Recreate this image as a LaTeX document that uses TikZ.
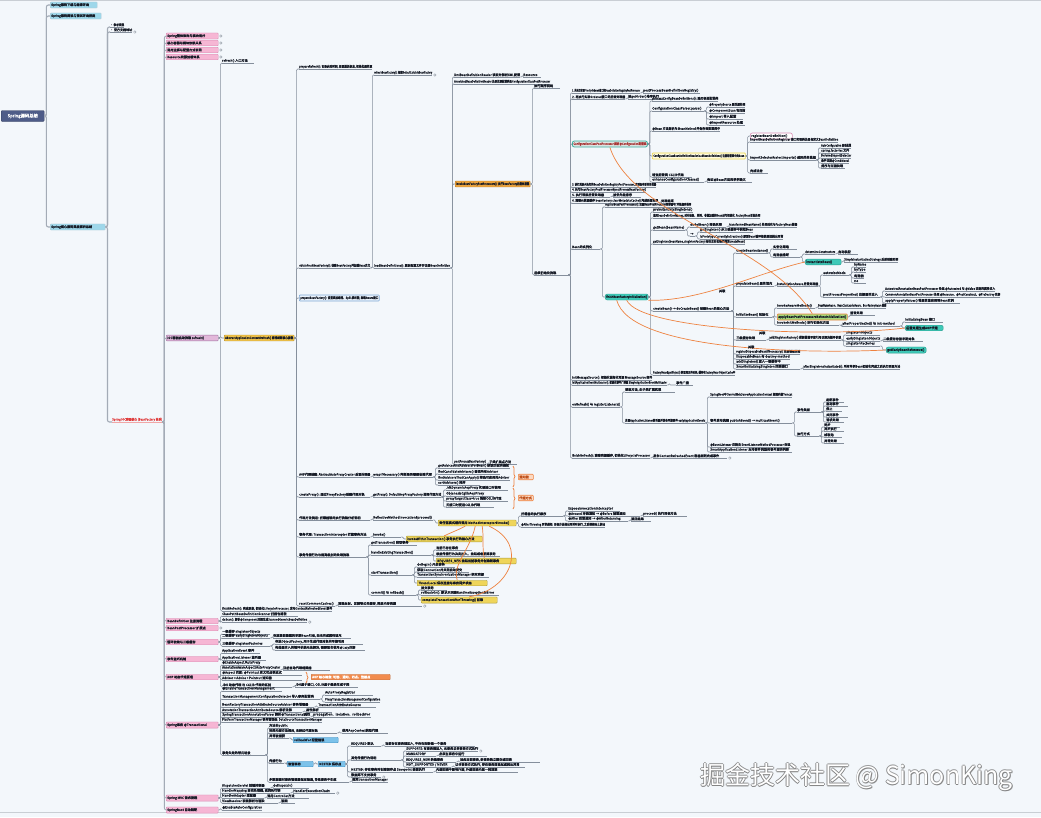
\documentclass[tikz,border=0pt]{standalone}
\usepackage{fontspec}
\setmainfont{Noto Sans CJK SC}
\newfontfamily\mmfont{Noto Sans CJK SC}[FakeBold=1.5]
\usepackage{graphicx}
\usetikzlibrary{decorations.pathreplacing}
\definecolor{bg}{HTML}{F3F7FB}
\definecolor{linec}{HTML}{858F9C}
\definecolor{trunkc}{HTML}{A3ABB6}
\definecolor{txt}{HTML}{161B26}
\definecolor{rootc}{HTML}{4E5C88}
\definecolor{cyanc}{HTML}{9ED7EA}
\definecolor{pinkf}{HTML}{F6B6D4}
\definecolor{pinkd}{HTML}{D98CB3}
\definecolor{lavf}{HTML}{E2B8DA}
\definecolor{lavd}{HTML}{9C6F9E}
\definecolor{goldf}{HTML}{F0C24A}
\definecolor{goldd}{HTML}{B8902A}
\definecolor{orf}{HTML}{ECA43E}
\definecolor{ord}{HTML}{C07E22}
\definecolor{tealf}{HTML}{3FC9B8}
\definecolor{teald}{HTML}{2A9C8E}
\definecolor{yelf}{HTML}{EFD55A}
\definecolor{yeld}{HTML}{A99A3C}
\definecolor{curvec}{HTML}{EE8240}
\definecolor{bluef}{HTML}{7CC2EA}
\definecolor{blued}{HTML}{3F8FC2}
\definecolor{greenf}{HTML}{A5D67A}
\definecolor{redt}{HTML}{E03C3C}
\definecolor{tgf}{HTML}{DCE4E2}
\definecolor{tgd}{HTML}{3AAE9E}
\definecolor{tgt}{HTML}{A83434}
\definecolor{ywf}{HTML}{FFFCE2}
\definecolor{ywd}{HTML}{EDD64E}
\definecolor{lbf}{HTML}{EAF2FB}
\definecolor{lbd}{HTML}{7FA9D6}
\definecolor{orsf}{HTML}{FBD9C2}
\definecolor{orst}{HTML}{C0501A}
\definecolor{orbf}{HTML}{F28C4E}
\definecolor{wmshadow}{HTML}{7A7A7A}
\definecolor{edge}{HTML}{C9CED4}

\newsavebox\mmbox
\newcommand\mmfit[2]{\sbox\mmbox{\resizebox{!}{2.65pt}{\mmfont\vphantom{国}#2}}%
 \ifdim\wd\mmbox>#1pt\relax\resizebox{#1pt}{2.65pt}{\usebox\mmbox}\else\makebox[#1pt][l]{\usebox\mmbox}\fi}
\newcommand\mmT[5]{\node[tn] (#1) at (#2,#3) {\mmfit{#4}{#5}};%
 \draw[ul] (#1.south west) -- (#1.south east);%
 \coordinate (#1-o) at (#1.south east);\coordinate (#1-i) at (#1.south west);}
\newcommand\mmB[6]{\pgfmathsetmacro\mmw{#5-2}\node[#1] (#2) at (#3,#4) {\mmfit{\mmw}{#6}};%
 \coordinate (#2-o) at (#2.east);\coordinate (#2-i) at (#2.west);}
\newcommand\mmC[2]{\draw[cn] (#1-o) -- ++(2,0) |- (#2-i);}
\newcommand\mmCC[2]{\foreach \mmc in {#2}{\mmC{#1}{\mmc}}}
\newcommand\mmX[1]{\draw[draw=linec,fill=white,line width=0.35pt] ([xshift=2.4pt]#1-o) circle (1.3pt);}

\tikzset{
 tn/.style={anchor=south west, inner xsep=0pt, inner ysep=0.5pt, text=txt},
 ul/.style={draw=linec, line width=0.55pt},
 cn/.style={draw=linec, line width=0.55pt, rounded corners=1.2pt},
 trunk/.style={draw=trunkc, line width=1.1pt, rounded corners=2pt},
 bx/.style={anchor=west, inner xsep=1pt, inner ysep=1.3pt, rounded corners=0.8pt, line width=0.45pt, text=txt},
 cyanbx/.style={bx, fill=cyanc, draw=cyanc!80!black!60},
 pinkbx/.style={bx, fill=pinkf, draw=pinkd},
 lavbx/.style={bx, fill=lavf, draw=lavd},
 goldbx/.style={bx, fill=goldf, draw=goldd},
 orbx/.style={bx, fill=orf, draw=ord},
 tqbx/.style={bx, fill=tealf, draw=teald, rounded corners=2pt},
 tgbx/.style={bx, fill=tgf, draw=tgd, text=tgt, line width=0.8pt, rounded corners=2pt},
 ywbx/.style={bx, fill=ywf, draw=ywd, line width=0.7pt},
 pkobx/.style={bx, fill=white, draw=pinkd, line width=0.6pt, rounded corners=2pt},
 grbx/.style={bx, fill=greenf, draw=curvec, line width=0.6pt},
 yelbx/.style={bx, fill=yelf, draw=yeld},
 blbx/.style={bx, fill=bluef, draw=blued},
 lbbx/.style={bx, fill=lbf, draw=lbd, line width=0.6pt},
 orsbx/.style={bx, fill=orsf, draw=curvec, text=orst, line width=0.6pt},
 orbbx/.style={bx, fill=orbf, draw=orbf!80!black, text=white},
 rootbx/.style={anchor=west, fill=rootc, draw=rootc!70!black, minimum width=43pt, minimum height=11pt, inner sep=1pt, rounded corners=1pt},
 curve/.style={draw=curvec, line width=0.7pt},
 lbl/.style={inner sep=0pt, text=txt},
 wm/.style={anchor=west, inner sep=0pt, font=\fontsize{25}{25}\selectfont}
}

\begin{document}
\begin{tikzpicture}[x=1pt,y=-1pt]
\fill[bg] (0,0) rectangle (1041,817);
\useasboundingbox (0,0) rectangle (1041,817);
\draw[edge, line width=0.8pt] (0,0.6) -- (1041,0.6);
\draw[edge, line width=1pt] (0,812.5) -- (1041,812.5);

% ---------- root and first levels
\node[rootbx] (root) at (1,116) {\resizebox{!}{3.6pt}{\mmfont\vphantom{国}\textcolor{white}{Spring源码总结}}};
\coordinate (root-o) at (root.east);
\mmB{cyanbx}{cy1}{50}{5}{47}{Spring源码下载与编译环境}
\mmB{cyanbx}{cy2}{50}{16}{51}{Spring源码阅读与调试环境搭建}
\mmB{cyanbx}{cy3}{50}{227}{55}{Spring核心源码深度解析总结}
\foreach \c in {cy1,cy2,cy3}{\draw[trunk] (root-o) -- ++(2,0) |- (\c-i);}

\mmT{ta}{110}{27}{14}{• 参考资料}
\mmT{tb}{110}{32}{22}{• 官方文档地址}
\mmX{tb}
\node[tn,text=redt] (red) at (112,422) {\mmfit{50}{Spring IOC容器核心 (BeanFactory 体系)}};
\draw[draw=redt!45, line width=0.5pt] (red.south west) -- (red.south east);
\coordinate (red-o) at (red.south east);\coordinate (red-i) at (red.south west);
\foreach \c in {ta,tb,red}{\draw[trunk] (cy3-o) -- ++(2,0) |- (\c-i);}

\mmB{pinkbx}{p1}{166}{36}{52}{Spring整体架构与模块划分}
\mmB{pinkbx}{p2}{166}{43}{52}{核心容器与模块依赖关系}
\mmB{pinkbx}{p3}{166}{50}{52}{常用注解与配置方式说明}
\mmB{pinkbx}{p4}{166}{57}{52}{Resource资源加载体系}
\mmB{lavbx}{p5}{166}{338}{52}{IOC容器启动流程 refresh()}
\mmB{pinkbx}{p6}{166}{621}{52}{BeanDefinition 注册流程}
\mmB{pinkbx}{p7}{166}{628}{52}{BeanPostProcessor 扩展点}
\mmB{pinkbx}{p8}{166}{642}{52}{循环依赖与三级缓存}
\mmB{pinkbx}{p9}{166}{659}{52}{事件监听机制}
\mmB{pinkbx}{p10}{166}{677}{52}{AOP 动态代理原理}
\mmB{pinkbx}{p11}{166}{725}{52}{Spring事务 @Transactional}
\mmB{pinkbx}{p12}{166}{798}{52}{Spring MVC 请求流程}
\mmB{pinkbx}{p13}{166}{810}{52}{SpringBoot 自动装配}
\foreach \c in {p1,p2,p3,p4,p5,p6,p7,p8,p9,p10,p11,p12,p13}{\draw[trunk, line width=0.9pt] (red-o) -- ++(2,0) |- (\c-i);}
\mmX{p1}\mmX{p2}\mmX{p3}\mmX{p4}\mmX{p7}

% ---------- p5 : refresh
\mmT{c63}{222}{63}{32}{refresh() 入口方法}
\mmB{goldbx}{Y1}{224}{338}{70}{AbstractApplicationContext\#refresh() 容器刷新核心流程}
\mmT{c611}{222}{611}{110}{finishRefresh(): 完成刷新, 初始化LifecycleProcessor, 发布ContextRefreshedEvent事件}
\mmCC{p5}{c63,Y1,c611}

\mmT{A}{299}{69}{73}{prepareRefresh(): 记录启动时间, 设置激活标志, 初始化属性源}
\mmT{N268}{299}{268}{71}{obtainFreshBeanFactory(): 创建BeanFactory并加载Bean定义}
\mmB{lbbx}{B298}{299}{298}{80}{prepareBeanFactory(): 设置类加载器、SpEL解析器, 忽略Aware接口}
\mmT{G477}{299}{477}{71}{AOP代理创建: AbstractAutoProxyCreator 后置处理器}
\mmT{G497}{299}{497}{71}{createProxy(): 通过ProxyFactory创建代理对象}
\mmT{G520}{299}{520}{71}{代理方法调用: 拦截器链的执行流程分析说明}
\mmT{G537}{299}{537}{71}{事务代理: TransactionInterceptor 拦截事务方法}
\mmT{G557}{299}{557}{67}{事务传播行为与隔离级别的处理流程}
\mmT{G606}{299}{606}{36}{resetCommonCaches()}
\mmCC{Y1}{A,N268,B298,G477,G497,G520,G537,G557,G606}

\mmT{n75}{374}{75}{58}{refreshBeanFactory(): 创建DefaultListableBeanFactory}
\mmX{n75}
\mmT{n268b}{374}{268}{76}{loadBeanDefinitions(): 解析配置文件并注册BeanDefinition}
\mmCC{N268}{n75,n268b}

\mmT{m77}{454}{77}{66}{XmlBeanDefinitionReader 读取并解析XML配置}
\mmT{m77b}{523}{77}{18}{Resource}
\mmC{m77}{m77b}
\mmT{m84}{454}{84}{96}{AnnotatedBeanDefinitionReader 注册注解配置类及ConfigurationClassPostProcessor}
\mmB{orbx}{O184}{455}{184}{75}{invokeBeanFactoryPostProcessors(): 执行BeanFactory后置处理器}
\mmT{m464}{454}{464}{32}{postProcessBeanFactory()}
\mmT{m464b}{489}{464}{28}{子类扩展点方法}
\mmC{m464}{m464b}
\mmCC{n268b}{m77,m84,O184,m464}

\mmT{q88}{534}{88}{26}{执行顺序说明}
\mmT{q275}{534}{275}{34}{后续初始化流程}
\mmCC{O184}{q88,q275}

\mmT{r93}{572}{93}{68}{1. 先执行实现PriorityOrdered接口的BeanDefinitionRegistryPostProcessor}
\mmT{r93b}{643}{93}{57}{postProcessBeanDefinitionRegistry()}
\mmC{r93}{r93b}
\mmT{r99}{572}{99}{53}{2. 再执行实现Ordered接口的后置处理器}
\mmT{r99b}{628}{99}{37}{按getOrder()排序执行}
\mmC{r99}{r99b}
\mmB{tgbx}{T145}{572}{144}{75}{ConfigurationClassPostProcessor 解析@Configuration配置类}
\mmT{r185}{572}{187}{84}{3. 执行其余未执行的BeanDefinitionRegistryPostProcessor, 直到没有新的处理器}
\mmT{r191}{572}{192}{74}{4. 执行BeanFactoryPostProcessor\#postProcessBeanFactory()}
\mmT{r197}{572}{197}{38}{5. 执行常规后置处理器}
\mmT{r197b}{613}{197}{28}{按优先级排序}
\mmC{r197}{r197b}
\mmT{r203}{572}{203}{86}{6. 清除元数据缓存 beanFactory.clearMetadataCache() 完成后置处理}
\mmT{r203b}{661}{203}{20}{处理结束}
\mmC{r203}{r203b}
\mmT{r249}{572}{249}{28}{Bean的实例化}
\mmT{r380}{572}{380}{80}{initMessageSource(): 初始化国际化资源 MessageSource 组件}
\mmT{r385}{572}{385}{95}{initApplicationEventMulticaster(): 初始化事件广播器 SimpleApplicationEventMulticaster}
\mmT{r385b}{676}{385}{17}{事件广播}
\mmC{r385}{r385b}
\mmT{r407}{572}{407}{48}{onRefresh() 与 registerListeners()}
\mmT{r458}{572}{458}{78}{finishRefresh(): 清除资源缓存, 初始化LifecycleProcessor}
\mmT{r458b}{653}{458}{74}{发布ContextRefreshedEvent 容器刷新完成事件}
\mmX{r458b}
\mmC{r458}{r458b}
\mmCC{q275}{r93,r99,T145,r185,r191,r197,r203,r249,r380,r385,r407,r458}

% T145 subtree
\mmT{s101}{652}{101}{66}{processConfigBeanDefinitions(): 遍历候选配置类}
\mmT{s111}{652}{111}{52}{ConfigurationClassParser.parse()}
\mmT{s111a}{709}{107}{36}{@PropertySource 属性源处理}
\mmT{s111b}{709}{113}{36}{@ComponentScan 包扫描}
\mmT{s111c}{709}{119}{34}{@Import 导入配置}
\mmT{s111d}{709}{125}{36}{@ImportResource 处理}
\mmCC{s111}{s111a,s111b,s111c,s111d}
\mmT{s130}{652}{131}{68}{@Bean 方法解析为 BeanMethod 并保存到配置类中}
\mmB{ywbx}{Y156}{652}{156}{93}{ConfigurationClassBeanDefinitionReader.loadBeanDefinitions() 注册配置类中的Bean}
\mmT{s178}{652}{177}{40}{增强配置类 CGLIB代理}
\mmT{s181}{652}{182}{52}{enhanceConfigurationClasses()}
\mmT{s181b}{707}{182}{45}{保证@Bean方法的单例语义}
\mmC{s181}{s181b}
\mmCC{T145}{s101,s111,s130,Y156,s178,s181}

\mmB{pkobx}{pk136}{750}{136}{42}{registerBeanDefinition()}
\mmT{u142}{750}{142}{88}{ImportBeanDefinitionRegistrar 接口实现类注册自定义BeanDefinition}
\mmT{u160}{750}{160}{66}{ImportSelector\#selectImports() 返回类名数组}
\mmT{u160a}{821}{148}{30}{AutoConfiguration 自动配置}
\mmT{u160b}{821}{153}{28}{spring.factories 文件}
\mmT{u160c}{821}{158}{30}{DeferredImportSelector}
\mmT{u160d}{821}{163}{28}{条件注解@Conditional}
\mmT{u160e}{821}{168}{24}{排序与过滤处理}
\mmCC{u160}{u160a,u160b,u160c,u160d,u160e}
\mmT{u173}{750}{173}{18}{完成注册}
\mmCC{Y156}{pk136,u142,u160,u173}

% r249 subtree
\mmT{v207}{605}{207}{86}{registerBeanPostProcessors(): 注册BeanPostProcessor到容器中, 并按顺序排序}
\mmB{tqbx}{TQ297}{605}{297}{43}{finishBeanFactoryInitialization()}
\mmCC{r249}{v207,TQ297}

\mmT{w212}{653}{212}{40}{preInstantiateSingletons()}
\mmT{w218}{653}{218}{107}{遍历beanDefinitionNames, 对非抽象、单例、非懒加载的Bean进行初始化, FactoryBean单独处理}
\mmT{w230}{653}{230}{32}{getBean(beanName)}
\mmT{x227}{690}{227}{36}{doGetBean() 转换名称}
\mmT{x227b}{729}{227}{68}{transformedBeanName() 处理别名与FactoryBean前缀}
\mmC{x227}{x227b}
\mmT{x236}{690}{236}{5}{→}
\mmT{x236a}{700}{232}{53}{getSingleton() 从三级缓存中获取Bean}
\mmT{x236b}{700}{239}{83}{isPrototypeCurrentlyInCreation() 原型Bean循环依赖直接抛出异常}
\mmCC{x236}{x236a,x236b}
\mmCC{w230}{x227,x236}
\mmT{w244}{653}{244}{92}{getSingleton(beanName, singletonFactory) 标记正在创建并回调createBean()}
\mmT{w311}{653}{311}{78}{createBean() → doCreateBean() 创建Bean的核心方法}
\mmT{w375}{653}{375}{82}{FactoryBean\#getObject() 获取真正的对象, 缓存在factoryBeanObjectCache中}
\mmCC{TQ297}{w212,w218,w230,w244,w311,w375}

\mmT{y253}{736}{253}{32}{createBeanInstance()}
\mmT{z249}{773}{249}{24}{实例化策略}
\mmT{z257}{773}{257}{27}{构造器推断}
\mmT{z254}{805}{254}{30}{determineConstructors}
\mmT{z254b}{838}{254}{20}{自动装配}
\mmC{z254}{z254b}
\mmB{tqbx}{TQ262}{805}{262}{36}{instantiateBean()}
\mmT{z262b}{844}{262}{54}{SimpleInstantiationStrategy 反射创建实例}
\mmC{TQ262}{z262b}
\mmCC{z257}{z254,TQ262}
\mmCC{y253}{z249,z257}

\mmT{y286}{736}{286}{38}{populateBean() 属性填充}
\mmT{y286b}{777}{286}{41}{InstantiationAware 后置处理器}
\mmC{y286}{y286b}
\mmT{aa275}{823}{275}{26}{autowireMode}
\mmT{ab267}{854}{267}{12}{byName}
\mmT{ab272}{854}{272}{12}{byType}
\mmT{ab278}{854}{278}{10}{构造器}
\mmT{ab283}{854}{283}{12}{no}
\mmCC{aa275}{ab267,ab272,ab278,ab283}
\mmT{aa297}{823}{297}{57}{postProcessProperties() 注解属性注入}
\mmT{ac291}{885}{291}{110}{AutowiredAnnotationBeanPostProcessor 处理 @Autowired 与 @Value 注解的属性注入}
\mmT{ac297}{885}{297}{115}{CommonAnnotationBeanPostProcessor 处理 @Resource、@PostConstruct、@PreDestroy 注解}
\mmT{ac303}{885}{303}{75}{applyPropertyValues() 将属性值应用到Bean实例}
\mmCC{aa297}{ac291,ac297,ac303}
\mmCC{y286b}{aa275,aa297}

\mmT{y317}{736}{317}{36}{initializeBean() 初始化}
\mmT{ad308}{777}{308}{38}{invokeAwareMethods()}
\mmT{ad308b}{818}{308}{68}{BeanNameAware、BeanClassLoaderAware、BeanFactoryAware 回调}
\mmC{ad308}{ad308b}
\mmB{grbx}{GR317}{777}{317}{70}{applyBeanPostProcessorsBeforeInitialization()}
\mmT{ad315}{850}{315}{25}{前置处理}
\mmC{GR317}{ad315}
\mmT{ad325}{777}{325}{62}{invokeInitMethods() 执行初始化方法}
\mmT{ad326}{842}{326}{58}{afterPropertiesSet() 与 init-method}
\mmC{ad325}{ad326}
\mmT{ae322}{905}{322}{38}{InitializingBean 接口}
\mmB{tqbx}{TQ328}{905}{328}{38}{后置处理生成AOP代理}
\mmCC{ad326}{ae322,TQ328}
\mmCC{y317}{ad308,GR317,ad325}

\mmT{y340}{736}{340}{30}{三级缓存处理}
\mmT{y340b}{769}{340}{72}{addSingletonFactory() 提前暴露早期引用以解决循环依赖}
\mmC{y340}{y340b}
\mmT{af335}{846}{335}{34}{singletonObjects}
\mmT{af341}{846}{341}{34}{earlySingletonObjects}
\mmT{af341b}{883}{341}{40}{二级缓存存放早期对象}
\mmC{af341}{af341b}
\mmT{af346}{846}{346}{34}{singletonFactories}
\mmB{tqbx}{TQ350}{886}{350}{40}{getEarlyBeanReference()}
\mmC{af346}{TQ350}
\mmCC{y340b}{af335,af341,af346}
\mmT{y354}{736}{354}{64}{registerDisposableBeanIfNecessary() 注册销毁回调}
\mmT{y359}{736}{359}{54}{DisposableBean 与 destroy-method}
\mmT{y364}{736}{364}{54}{addSingleton() 放入一级缓存中}
\mmT{y369}{736}{369}{64}{SmartInitializingSingleton 回调接口}
\mmT{y369b}{803}{369}{97}{afterSingletonsInstantiated(): 所有单例Bean初始化完成之后执行回调方法}
\mmC{y369}{y369b}
\mmCC{w311}{y253,y286,y317,y340,y354,y359,y364,y369}

% r407 subtree
\mmT{k392}{625}{392}{50}{模板方法, 由子类扩展实现}
\mmT{k423}{625}{423}{80}{注册ApplicationListener监听器并发布早期事件 earlyApplicationEvents}
\mmCC{r407}{k392,k423}
\mmT{k397}{710}{397}{82}{SpringBoot中 ServletWebServerApplicationContext 创建内嵌Tomcat}
\mmT{k423b}{710}{423}{82}{事件发布流程 publishEvent() → multicastEvent()}
\mmT{k447}{710}{447}{80}{@EventListener 注解由 EventListenerMethodProcessor 处理}
\mmT{k452}{710}{452}{82}{SmartApplicationListener 支持事件类型和事件源的判断}
\mmCC{k423}{k397,k423b,k447,k452}
\mmT{k412}{797}{412}{24}{事件类型}
\mmT{k402}{826}{402}{18}{刷新事件}
\mmT{k406}{826}{406}{22}{启动事件}
\mmT{k411}{826}{411}{16}{停止}
\mmT{k417}{826}{417}{22}{关闭事件}
\mmT{k422}{826}{422}{18}{请求处理}
\mmCC{k412}{k402,k406,k411,k417,k422}
\mmT{k436}{797}{436}{22}{执行方式}
\mmT{k427}{824}{427}{16}{同步}
\mmT{k431}{824}{431}{20}{异步执行}
\mmT{k437}{824}{437}{18}{线程池}
\mmT{k443}{824}{443}{20}{异常处理}
\mmCC{k436}{k427,k431,k437,k443}
\mmCC{k423b}{k412,k436}

% AOP / Tx groups under Y1
\mmT{g1}{373}{477}{60}{wrapIfNecessary() 判断是否需要创建代理}
\mmC{G477}{g1}
\mmT{g1a}{438}{468}{72}{getAdvicesAndAdvisorsForBean() 获取匹配的通知}
\mmT{g1b}{438}{474}{62}{findCandidateAdvisors() 查找所有Advisor}
\mmT{g1c}{438}{480}{72}{findAdvisorsThatCanApply() 筛选可应用的Advisor}
\mmT{g1d}{438}{485}{42}{sortAdvisors() 排序}
\mmCC{g1}{g1a,g1b,g1c,g1d}
\draw[curve, decorate, decoration={brace, amplitude=2pt}] (513,466) -- (513,487);
\mmB{orsbx}{OB1}{518}{477}{15}{通知链}

\mmT{g2}{373}{497}{68}{getProxy(): DefaultAopProxyFactory 选择代理方式}
\mmC{G497}{g2}
\mmT{g2a}{446}{490}{62}{JdkDynamicAopProxy 实现接口时使用}
\mmT{g2b}{446}{496}{48}{ObjenesisCglibAopProxy}
\mmT{g2c}{446}{501}{62}{proxyTargetClass=true 强制CGLIB代理}
\mmT{g2d}{446}{507}{48}{无接口时使用CGLIB代理}
\mmCC{g2}{g2a,g2b,g2c,g2d}
\draw[curve, decorate, decoration={brace, amplitude=2pt}] (513,488) -- (513,509);
\mmB{orsbx}{OB2}{518}{498}{15}{代理方式}

\mmT{g3}{373}{520}{60}{ReflectiveMethodInvocation\#proceed()}
\mmC{G520}{g3}
\mmB{yelbx}{YB523}{438}{523}{78}{责任链模式递归调用 MethodInterceptor\#invoke()}
\mmC{g3}{YB523}
\mmT{g3a}{521}{516}{42}{拦截器的执行顺序}
\mmT{g3a1}{568}{511}{52}{ExposeInvocationInterceptor}
\mmT{g3a2}{568}{516}{72}{@Around 环绕通知 → @Before 前置通知}
\mmT{g3a2b}{643}{516}{44}{proceed() 执行目标方法}
\mmC{g3a2}{g3a2b}
\mmT{g3a3}{568}{521}{60}{@After 后置通知 → @AfterReturning}
\mmT{g3a3b}{631}{521}{20}{返回结果}
\mmC{g3a3}{g3a3b}
\mmCC{g3a}{g3a1,g3a2,g3a3}
\mmT{g3b}{521}{527}{84}{@AfterThrowing 异常通知: 目标方法抛出异常时执行, 之后继续向上抛出}
\mmCC{YB523}{g3a,g3b}

\mmT{g4}{373}{537}{28}{invoke()}
\mmC{G537}{g4}
\mmB{yelbx}{YB539}{406}{539}{76}{invokeWithinTransaction() 事务执行的核心方法}
\mmC{g4}{YB539}

\mmT{h545}{371}{545}{46}{getTransaction() 获取事务}
\mmT{h555}{371}{555}{60}{handleExistingTransaction()}
\mmT{h575}{371}{575}{41}{startTransaction()}
\mmT{h595}{371}{595}{45}{commit() 与 rollback()}
\mmCC{G557}{h545,h555,h575,h595}
\mmT{h550}{436}{550}{36}{当前已存在事务}
\mmT{h556}{436}{556}{64}{根据传播行为决定加入、挂起或者新建事务}
\mmB{yelbx}{YB561}{436}{561}{80}{REQUIRES\_NEW 挂起当前事务并创建新事务}
\mmCC{h555}{h550,h556,YB561}
\mmT{h567}{417}{567}{38}{doBegin() 开启事务}
\mmT{h572}{417}{572}{52}{获取Connection并关闭自动提交}
\mmT{h577}{417}{577}{72}{TransactionSynchronizationManager 绑定资源}
\mmB{yelbx}{YB583}{417}{583}{70}{ThreadLocal 保存连接与事务同步状态}
\mmCC{h575}{h567,h572,h577,YB583}
\mmT{h590}{421}{590}{26}{提交事务}
\mmT{h595b}{421}{595}{78}{rollbackOn(): 默认只回滚RuntimeException和Error}
\mmB{yelbx}{YB600}{421}{600}{76}{completeTransactionAfterThrowing() 回滚}
\mmCC{h595}{h590,h595b,YB600}

\mmT{g6}{338}{606}{84}{清除反射、注解等公共缓存, 释放内存资源}
\mmX{g6}
\mmC{G606}{g6}

% ---------- other pink groups
\mmT{e616}{222}{616}{76}{ClassPathBeanDefinitionScanner 扫描包路径}
\mmT{e622}{222}{622}{85}{doScan(): 解析@Component注解生成ScannedGenericBeanDefinition}
\mmX{e622}
\mmCC{p6}{e616,e622}

\mmT{e634}{222}{634}{48}{一级缓存 singletonObjects}
\mmT{e638}{222}{638}{48}{二级缓存 earlySingletonObjects}
\mmT{e638b}{273}{638}{78}{存放提前暴露的早期Bean引用, 尚未完成属性填充}
\mmC{e638}{e638b}
\mmT{e646}{222}{646}{48}{三级缓存 singletonFactories}
\mmT{e644}{275}{644}{88}{存放ObjectFactory, 用于生成代理对象的早期引用}
\mmT{e650}{275}{650}{90}{构造器注入的循环依赖无法解决, 需要配合使用@Lazy注解}
\mmCC{e646}{e644,e650}
\mmCC{p8}{e634,e638,e646}

\mmT{e653}{222}{653}{38}{ApplicationEvent 事件}
\mmT{e660}{222}{660}{44}{ApplicationListener 监听器}
\mmCC{p9}{e653,e660}

\mmT{f665}{222}{665}{38}{@EnableAspectJAutoProxy}
\mmT{f670}{222}{670}{58}{AnnotationAwareAspectJAutoProxyCreator}
\mmT{f670b}{283}{670}{47}{注册自动代理创建器}
\mmC{f670}{f670b}
\mmT{f675}{222}{675}{80}{@Aspect 切面: @Pointcut 定义切点表达式}
\mmT{f680}{222}{680}{80}{Advisor = Advice + Pointcut 通知器}
\mmT{f687}{222}{687}{70}{JDK 动态代理 与 CGLIB 代理的区别}
\mmT{f687b}{295}{687}{63}{JDK基于接口, CGLIB基于继承生成子类}
\mmC{f687}{f687b}
\mmCC{p10}{f665,f670,f675,f680,f687}
\draw[curve, decorate, decoration={brace, amplitude=2pt}] (306,672) -- (306,683);
\mmB{orbbx}{OB3}{311}{677}{79}{AOP 核心概念: 切面、通知、切点、连接点}

\mmT{i691}{222}{691}{60}{@EnableTransactionManagement}
\mmT{i699}{222}{699}{98}{TransactionManagementConfigurationSelector 导入事务配置类}
\mmT{i695}{325}{695}{48}{AutoProxyRegistrar}
\mmT{i702}{325}{702}{55}{ProxyTransactionManagementConfiguration}
\mmCC{i699}{i695,i702}
\mmT{i707}{222}{707}{92}{BeanFactoryTransactionAttributeSourceAdvisor 事务增强器}
\mmT{i707b}{318}{707}{58}{TransactionAttributeSource}
\mmC{i707}{i707b}
\mmT{i712}{222}{712}{80}{AnnotationTransactionAttributeSource 解析注解}
\mmT{i712b}{306}{712}{26}{属性解析}
\mmC{i712}{i712b}
\mmT{i717}{222}{717}{88}{SpringTransactionAnnotationParser 解析@Transactional属性}
\mmT{i717b}{313}{717}{58}{propagation、isolation、rollbackFor}
\mmC{i717}{i717b}
\mmT{i722}{222}{722}{100}{PlatformTransactionManager 事务管理器: DataSourceTransactionManager}
\mmT{L755}{222}{755}{43}{事务失效的常见场景}
\mmCC{p11}{i691,i699,i707,i712,i717,i722,L755}

\mmT{j728}{269}{728}{20}{方法非public}
\mmT{j733}{269}{733}{68}{同类内部方法调用, 未经过代理对象}
\mmT{j733b}{342}{733}{46}{使用AopContext获取代理}
\mmC{j733}{j733b}
\mmT{j738}{269}{738}{20}{异常被捕获}
\mmB{blbx}{BL740}{293}{740}{45}{rollbackFor 配置错误}
\mmC{j738}{BL740}
\mmT{j763}{269}{763}{15}{传播行为}
\mmB{blbx}{BL764}{287}{764}{26}{嵌套事务}
\mmB{blbx}{BL764b}{318}{764}{27}{NESTED 保存点}
\mmC{j763}{BL764}
\mmC{BL764}{BL764b}
\mmT{j782}{269}{782}{80}{多数据源时事务管理器指定错误, 导致事务不生效}
\mmT{j782b}{352}{782}{36}{指定transactionManager}
\mmC{j782}{j782b}
\mmCC{L755}{j728,j733,j738,j763,j782}

\mmT{o746}{351}{746}{30}{REQUIRED 默认}
\mmT{o746b}{385}{746}{90}{当前存在事务则加入, 不存在则新建一个事务}
\mmC{o746}{o746b}
\mmT{o760}{351}{760}{50}{其他传播行为说明}
\mmT{o751}{406}{751}{72}{SUPPORTS: 有事务则加入, 无事务以非事务方式执行}
\mmX{o751}
\mmT{o756}{406}{756}{30}{MANDATORY}
\mmT{o756b}{439}{756}{48}{必须在事务中运行}
\mmC{o756}{o756b}
\mmT{o762}{406}{762}{50}{REQUIRES\_NEW 新建事务}
\mmT{o762b}{460}{762}{80}{挂起当前事务, 新事务独立提交或回滚}
\mmC{o762}{o762b}
\mmT{o767}{406}{767}{45}{NOT\_SUPPORTED / NEVER}
\mmT{o767b}{455}{767}{70}{以非事务方式执行, 存在事务则挂起或抛出异常}
\mmC{o767}{o767b}
\mmCC{o760}{o751,o756,o762,o767}
\mmT{o772}{351}{772}{82}{NESTED: 存在事务时创建保存点 Savepoint 嵌套执行}
\mmT{o772b}{436}{772}{82}{内层回滚不影响外层, 外层回滚内层一同回滚}
\mmC{o772}{o772b}
\mmT{o777}{351}{777}{30}{数据库不支持事务}
\mmX{o777}
\mmCC{BL764b}{o746,o760,o772,o777}

\mmT{q788}{222}{788}{48}{DispatcherServlet 前端控制器}
\mmT{q788b}{273}{788}{36}{doDispatch()}
\mmC{q788}{q788b}
\mmT{q793}{222}{793}{68}{HandlerMapping 查找处理器, 返回执行链}
\mmT{q793b}{293}{793}{42}{HandlerExecutionChain}
\mmX{q793b}
\mmC{q793}{q793b}
\mmT{q798}{222}{798}{42}{HandlerAdapter 适配器}
\mmT{q798b}{267}{798}{42}{调用Controller方法}
\mmC{q798}{q798b}
\mmT{q803}{222}{803}{56}{ViewResolver 视图解析与渲染}
\mmT{q803b}{281}{803}{14}{视图}
\mmC{q803}{q803b}
\mmCC{p12}{q788,q793,q798,q803}
\mmT{q810}{222}{810}{40}{@EnableAutoConfiguration}
\mmC{p13}{q810}

% ---------- orange relation curves
\draw[curve] (T145.south) .. controls (632,215) and (770,245) .. (GR317.north);
\draw[curve] (TQ297.south east) .. controls (700,302) and (760,272) .. (TQ262.west);
\draw[curve] (TQ297.south) .. controls (640,330) and (820,338) .. (TQ328.west);
\draw[curve] ([xshift=-10pt]TQ297.south) .. controls (630,350) and (800,354) .. (TQ350.west);
\node[lbl] (lb1) at (723,291) {\mmfit{8}{关联}};
\node[lbl] (lb2) at (763,333) {\mmfit{8}{关联}};
\node[lbl] (lb3) at (752,347) {\mmfit{8}{关联}};
\draw[curve] ([xshift=-12pt]YB523.south) .. controls (458,530) and (450,533) .. (YB539.north);
\draw[curve] ([xshift=5pt]YB523.south) .. controls (484,538) and (482,548) .. ([xshift=8pt]YB561.north);
\draw[curve] ([xshift=-2pt]YB523.south) .. controls (470,550) and (452,565) .. ([xshift=5pt]YB583.north);
\draw[curve] ([xshift=12pt]YB523.south) .. controls (530,545) and (510,590) .. ([xshift=10pt]YB600.north);

% ---------- watermark
\foreach \dx/\dy [count=\i] in {-0.8/0,0.8/0,0/-0.8,0/0.8,0.7/0.9}{
 \node[wm, text=wmshadow, opacity=0.7] (wms\i) at (700+\dx,777+\dy) {掘金技术社区 @ SimonKing};}
\node[wm, text=white] (wm) at (700,777) {掘金技术社区 @ SimonKing};
\end{tikzpicture}
\end{document}
